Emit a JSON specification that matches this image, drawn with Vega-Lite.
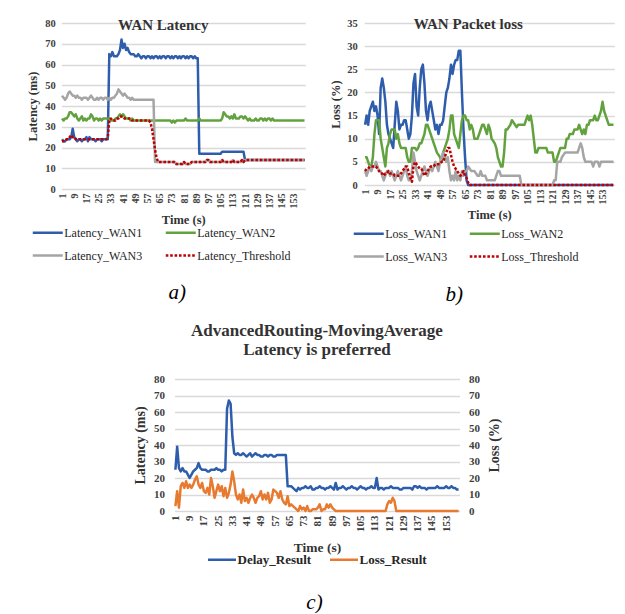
{
  "$schema": "https://vega.github.io/schema/vega-lite/v6.json",
  "padding": {"left": 26, "top": 17, "right": 0, "bottom": 0},
  "background": "white",
  "config": {
    "font": "Liberation Serif",
    "view": {"stroke": null},
    "axis": {"labelFont": "Liberation Serif", "labelFontWeight": "bold", "labelColor": "#404040", "titleFont": "Liberation Serif", "titleFontWeight": "bold", "titleColor": "#333333", "domain": false, "ticks": false, "gridColor": "#d9d9d9", "gridWidth": 1.3},
    "legend": {"labelFont": "Liberation Serif", "labelColor": "#262626"},
    "title": {"font": "Liberation Serif", "fontWeight": "bold", "color": "#333333"},
    "line": {"strokeWidth": 2.5, "strokeJoin": "round"}
  },
  "datasets": {
    "lat": [
      {"t":1,"s":"Latency_WAN1","v":24},{"t":2,"s":"Latency_WAN1","v":23},{"t":3,"s":"Latency_WAN1","v":23},{"t":4,"s":"Latency_WAN1","v":24},{"t":5,"s":"Latency_WAN1","v":24},{"t":6,"s":"Latency_WAN1","v":24},{"t":7,"s":"Latency_WAN1","v":25},{"t":8,"s":"Latency_WAN1","v":29},{"t":9,"s":"Latency_WAN1","v":25},{"t":10,"s":"Latency_WAN1","v":24},{"t":11,"s":"Latency_WAN1","v":23},{"t":12,"s":"Latency_WAN1","v":24},{"t":13,"s":"Latency_WAN1","v":24},{"t":14,"s":"Latency_WAN1","v":23},{"t":15,"s":"Latency_WAN1","v":24},{"t":16,"s":"Latency_WAN1","v":24},{"t":17,"s":"Latency_WAN1","v":25},{"t":18,"s":"Latency_WAN1","v":23},{"t":19,"s":"Latency_WAN1","v":25},{"t":20,"s":"Latency_WAN1","v":24},{"t":21,"s":"Latency_WAN1","v":24},{"t":22,"s":"Latency_WAN1","v":24},{"t":23,"s":"Latency_WAN1","v":23},{"t":24,"s":"Latency_WAN1","v":24},{"t":25,"s":"Latency_WAN1","v":24},{"t":26,"s":"Latency_WAN1","v":24},{"t":27,"s":"Latency_WAN1","v":23},{"t":28,"s":"Latency_WAN1","v":24},{"t":29,"s":"Latency_WAN1","v":24},{"t":30,"s":"Latency_WAN1","v":24},{"t":31,"s":"Latency_WAN1","v":24},{"t":32,"s":"Latency_WAN1","v":65},{"t":33,"s":"Latency_WAN1","v":64},{"t":34,"s":"Latency_WAN1","v":66},{"t":35,"s":"Latency_WAN1","v":64},{"t":36,"s":"Latency_WAN1","v":64},{"t":37,"s":"Latency_WAN1","v":64},{"t":38,"s":"Latency_WAN1","v":65},{"t":39,"s":"Latency_WAN1","v":67},{"t":40,"s":"Latency_WAN1","v":72},{"t":41,"s":"Latency_WAN1","v":68},{"t":42,"s":"Latency_WAN1","v":70},{"t":43,"s":"Latency_WAN1","v":67},{"t":44,"s":"Latency_WAN1","v":68},{"t":45,"s":"Latency_WAN1","v":66},{"t":46,"s":"Latency_WAN1","v":65},{"t":47,"s":"Latency_WAN1","v":65},{"t":48,"s":"Latency_WAN1","v":65},{"t":49,"s":"Latency_WAN1","v":64},{"t":50,"s":"Latency_WAN1","v":64},{"t":51,"s":"Latency_WAN1","v":65},{"t":52,"s":"Latency_WAN1","v":64},{"t":53,"s":"Latency_WAN1","v":63},{"t":54,"s":"Latency_WAN1","v":64},{"t":55,"s":"Latency_WAN1","v":64},{"t":56,"s":"Latency_WAN1","v":63},{"t":57,"s":"Latency_WAN1","v":64},{"t":58,"s":"Latency_WAN1","v":64},{"t":59,"s":"Latency_WAN1","v":63},{"t":60,"s":"Latency_WAN1","v":64},{"t":61,"s":"Latency_WAN1","v":63},{"t":62,"s":"Latency_WAN1","v":64},{"t":63,"s":"Latency_WAN1","v":64},{"t":64,"s":"Latency_WAN1","v":63},{"t":65,"s":"Latency_WAN1","v":64},{"t":66,"s":"Latency_WAN1","v":63},{"t":67,"s":"Latency_WAN1","v":64},{"t":68,"s":"Latency_WAN1","v":64},{"t":69,"s":"Latency_WAN1","v":63},{"t":70,"s":"Latency_WAN1","v":64},{"t":71,"s":"Latency_WAN1","v":64},{"t":72,"s":"Latency_WAN1","v":63},{"t":73,"s":"Latency_WAN1","v":64},{"t":74,"s":"Latency_WAN1","v":63},{"t":75,"s":"Latency_WAN1","v":64},{"t":76,"s":"Latency_WAN1","v":64},{"t":77,"s":"Latency_WAN1","v":63},{"t":78,"s":"Latency_WAN1","v":64},{"t":79,"s":"Latency_WAN1","v":63},{"t":80,"s":"Latency_WAN1","v":64},{"t":81,"s":"Latency_WAN1","v":64},{"t":82,"s":"Latency_WAN1","v":63},{"t":83,"s":"Latency_WAN1","v":64},{"t":84,"s":"Latency_WAN1","v":63},{"t":85,"s":"Latency_WAN1","v":64},{"t":86,"s":"Latency_WAN1","v":64},{"t":87,"s":"Latency_WAN1","v":63},{"t":88,"s":"Latency_WAN1","v":64},{"t":89,"s":"Latency_WAN1","v":63},{"t":90,"s":"Latency_WAN1","v":63},{"t":91,"s":"Latency_WAN1","v":17},{"t":92,"s":"Latency_WAN1","v":17},{"t":105,"s":"Latency_WAN1","v":17},{"t":106,"s":"Latency_WAN1","v":18},{"t":120,"s":"Latency_WAN1","v":18},{"t":121,"s":"Latency_WAN1","v":14},{"t":160,"s":"Latency_WAN1","v":14},

      {"t":1,"s":"Latency_WAN2","v":34},{"t":2,"s":"Latency_WAN2","v":33},{"t":3,"s":"Latency_WAN2","v":34},{"t":4,"s":"Latency_WAN2","v":34},{"t":5,"s":"Latency_WAN2","v":35},{"t":6,"s":"Latency_WAN2","v":37},{"t":7,"s":"Latency_WAN2","v":37},{"t":8,"s":"Latency_WAN2","v":36},{"t":9,"s":"Latency_WAN2","v":35},{"t":10,"s":"Latency_WAN2","v":36},{"t":11,"s":"Latency_WAN2","v":34},{"t":12,"s":"Latency_WAN2","v":33},{"t":13,"s":"Latency_WAN2","v":34},{"t":14,"s":"Latency_WAN2","v":35},{"t":15,"s":"Latency_WAN2","v":33},{"t":16,"s":"Latency_WAN2","v":34},{"t":17,"s":"Latency_WAN2","v":33},{"t":18,"s":"Latency_WAN2","v":34},{"t":19,"s":"Latency_WAN2","v":34},{"t":20,"s":"Latency_WAN2","v":36},{"t":21,"s":"Latency_WAN2","v":35},{"t":22,"s":"Latency_WAN2","v":33},{"t":23,"s":"Latency_WAN2","v":34},{"t":24,"s":"Latency_WAN2","v":34},{"t":25,"s":"Latency_WAN2","v":33},{"t":26,"s":"Latency_WAN2","v":34},{"t":27,"s":"Latency_WAN2","v":33},{"t":28,"s":"Latency_WAN2","v":34},{"t":31,"s":"Latency_WAN2","v":34},{"t":32,"s":"Latency_WAN2","v":34},{"t":33,"s":"Latency_WAN2","v":33},{"t":35,"s":"Latency_WAN2","v":33},{"t":36,"s":"Latency_WAN2","v":34},{"t":37,"s":"Latency_WAN2","v":34},{"t":38,"s":"Latency_WAN2","v":35},{"t":39,"s":"Latency_WAN2","v":36},{"t":40,"s":"Latency_WAN2","v":35},{"t":41,"s":"Latency_WAN2","v":36},{"t":42,"s":"Latency_WAN2","v":35},{"t":43,"s":"Latency_WAN2","v":34},{"t":45,"s":"Latency_WAN2","v":34},{"t":46,"s":"Latency_WAN2","v":33},{"t":47,"s":"Latency_WAN2","v":34},{"t":48,"s":"Latency_WAN2","v":33},{"t":72,"s":"Latency_WAN2","v":33},{"t":73,"s":"Latency_WAN2","v":32},{"t":74,"s":"Latency_WAN2","v":33},{"t":75,"s":"Latency_WAN2","v":32},{"t":76,"s":"Latency_WAN2","v":33},{"t":81,"s":"Latency_WAN2","v":33},{"t":82,"s":"Latency_WAN2","v":34},{"t":83,"s":"Latency_WAN2","v":33},{"t":90,"s":"Latency_WAN2","v":33},{"t":91,"s":"Latency_WAN2","v":34},{"t":92,"s":"Latency_WAN2","v":33},{"t":105,"s":"Latency_WAN2","v":33},{"t":106,"s":"Latency_WAN2","v":34},{"t":107,"s":"Latency_WAN2","v":37},{"t":108,"s":"Latency_WAN2","v":36},{"t":109,"s":"Latency_WAN2","v":35},{"t":110,"s":"Latency_WAN2","v":35},{"t":111,"s":"Latency_WAN2","v":34},{"t":112,"s":"Latency_WAN2","v":35},{"t":113,"s":"Latency_WAN2","v":34},{"t":114,"s":"Latency_WAN2","v":36},{"t":115,"s":"Latency_WAN2","v":34},{"t":117,"s":"Latency_WAN2","v":34},{"t":118,"s":"Latency_WAN2","v":35},{"t":119,"s":"Latency_WAN2","v":35},{"t":120,"s":"Latency_WAN2","v":34},{"t":121,"s":"Latency_WAN2","v":35},{"t":122,"s":"Latency_WAN2","v":34},{"t":123,"s":"Latency_WAN2","v":33},{"t":124,"s":"Latency_WAN2","v":34},{"t":125,"s":"Latency_WAN2","v":33},{"t":127,"s":"Latency_WAN2","v":33},{"t":128,"s":"Latency_WAN2","v":34},{"t":129,"s":"Latency_WAN2","v":33},{"t":130,"s":"Latency_WAN2","v":33},{"t":131,"s":"Latency_WAN2","v":34},{"t":132,"s":"Latency_WAN2","v":34},{"t":133,"s":"Latency_WAN2","v":33},{"t":134,"s":"Latency_WAN2","v":34},{"t":135,"s":"Latency_WAN2","v":33},{"t":136,"s":"Latency_WAN2","v":34},{"t":137,"s":"Latency_WAN2","v":34},{"t":138,"s":"Latency_WAN2","v":33},{"t":139,"s":"Latency_WAN2","v":34},{"t":140,"s":"Latency_WAN2","v":33},{"t":160,"s":"Latency_WAN2","v":33},

      {"t":1,"s":"Latency_WAN3","v":45},{"t":2,"s":"Latency_WAN3","v":44},{"t":3,"s":"Latency_WAN3","v":43},{"t":4,"s":"Latency_WAN3","v":44},{"t":5,"s":"Latency_WAN3","v":46},{"t":6,"s":"Latency_WAN3","v":47},{"t":7,"s":"Latency_WAN3","v":46},{"t":8,"s":"Latency_WAN3","v":45},{"t":9,"s":"Latency_WAN3","v":45},{"t":10,"s":"Latency_WAN3","v":44},{"t":11,"s":"Latency_WAN3","v":45},{"t":12,"s":"Latency_WAN3","v":44},{"t":13,"s":"Latency_WAN3","v":44},{"t":14,"s":"Latency_WAN3","v":43},{"t":15,"s":"Latency_WAN3","v":44},{"t":17,"s":"Latency_WAN3","v":44},{"t":18,"s":"Latency_WAN3","v":43},{"t":19,"s":"Latency_WAN3","v":44},{"t":20,"s":"Latency_WAN3","v":45},{"t":21,"s":"Latency_WAN3","v":44},{"t":22,"s":"Latency_WAN3","v":43},{"t":23,"s":"Latency_WAN3","v":43},{"t":24,"s":"Latency_WAN3","v":44},{"t":25,"s":"Latency_WAN3","v":43},{"t":26,"s":"Latency_WAN3","v":44},{"t":27,"s":"Latency_WAN3","v":44},{"t":28,"s":"Latency_WAN3","v":43},{"t":29,"s":"Latency_WAN3","v":44},{"t":30,"s":"Latency_WAN3","v":44},{"t":31,"s":"Latency_WAN3","v":43},{"t":32,"s":"Latency_WAN3","v":44},{"t":33,"s":"Latency_WAN3","v":43},{"t":34,"s":"Latency_WAN3","v":44},{"t":35,"s":"Latency_WAN3","v":44},{"t":36,"s":"Latency_WAN3","v":45},{"t":37,"s":"Latency_WAN3","v":46},{"t":38,"s":"Latency_WAN3","v":48},{"t":39,"s":"Latency_WAN3","v":47},{"t":40,"s":"Latency_WAN3","v":46},{"t":41,"s":"Latency_WAN3","v":45},{"t":42,"s":"Latency_WAN3","v":46},{"t":43,"s":"Latency_WAN3","v":45},{"t":44,"s":"Latency_WAN3","v":44},{"t":45,"s":"Latency_WAN3","v":44},{"t":46,"s":"Latency_WAN3","v":43},{"t":47,"s":"Latency_WAN3","v":44},{"t":48,"s":"Latency_WAN3","v":43},{"t":61,"s":"Latency_WAN3","v":43},{"t":62,"s":"Latency_WAN3","v":13},{"t":75,"s":"Latency_WAN3","v":13},{"t":76,"s":"Latency_WAN3","v":12},{"t":80,"s":"Latency_WAN3","v":12},{"t":81,"s":"Latency_WAN3","v":13},{"t":82,"s":"Latency_WAN3","v":12},{"t":85,"s":"Latency_WAN3","v":12},{"t":86,"s":"Latency_WAN3","v":13},{"t":95,"s":"Latency_WAN3","v":13},{"t":96,"s":"Latency_WAN3","v":14},{"t":97,"s":"Latency_WAN3","v":14},{"t":98,"s":"Latency_WAN3","v":13},{"t":105,"s":"Latency_WAN3","v":13},{"t":106,"s":"Latency_WAN3","v":14},{"t":107,"s":"Latency_WAN3","v":13},{"t":112,"s":"Latency_WAN3","v":13},{"t":113,"s":"Latency_WAN3","v":14},{"t":114,"s":"Latency_WAN3","v":13},{"t":118,"s":"Latency_WAN3","v":13},{"t":119,"s":"Latency_WAN3","v":14},{"t":120,"s":"Latency_WAN3","v":13},{"t":121,"s":"Latency_WAN3","v":14},{"t":160,"s":"Latency_WAN3","v":14},

      {"t":1,"s":"Latency_Threshold","v":23},{"t":3,"s":"Latency_Threshold","v":23},{"t":4,"s":"Latency_Threshold","v":24},{"t":5,"s":"Latency_Threshold","v":24},{"t":6,"s":"Latency_Threshold","v":25},{"t":7,"s":"Latency_Threshold","v":26},{"t":8,"s":"Latency_Threshold","v":25},{"t":9,"s":"Latency_Threshold","v":25},{"t":10,"s":"Latency_Threshold","v":24},{"t":30,"s":"Latency_Threshold","v":24},{"t":31,"s":"Latency_Threshold","v":25},{"t":32,"s":"Latency_Threshold","v":33},{"t":33,"s":"Latency_Threshold","v":34},{"t":34,"s":"Latency_Threshold","v":33},{"t":36,"s":"Latency_Threshold","v":33},{"t":37,"s":"Latency_Threshold","v":34},{"t":38,"s":"Latency_Threshold","v":34},{"t":39,"s":"Latency_Threshold","v":35},{"t":41,"s":"Latency_Threshold","v":35},{"t":42,"s":"Latency_Threshold","v":34},{"t":46,"s":"Latency_Threshold","v":34},{"t":47,"s":"Latency_Threshold","v":33},{"t":58,"s":"Latency_Threshold","v":33},{"t":59,"s":"Latency_Threshold","v":32},{"t":60,"s":"Latency_Threshold","v":29},{"t":61,"s":"Latency_Threshold","v":24},{"t":62,"s":"Latency_Threshold","v":19},{"t":63,"s":"Latency_Threshold","v":15},{"t":64,"s":"Latency_Threshold","v":13},{"t":75,"s":"Latency_Threshold","v":13},{"t":76,"s":"Latency_Threshold","v":12},{"t":80,"s":"Latency_Threshold","v":12},{"t":81,"s":"Latency_Threshold","v":13},{"t":82,"s":"Latency_Threshold","v":12},{"t":85,"s":"Latency_Threshold","v":12},{"t":86,"s":"Latency_Threshold","v":13},{"t":95,"s":"Latency_Threshold","v":13},{"t":96,"s":"Latency_Threshold","v":14},{"t":97,"s":"Latency_Threshold","v":14},{"t":98,"s":"Latency_Threshold","v":13},{"t":105,"s":"Latency_Threshold","v":13},{"t":106,"s":"Latency_Threshold","v":14},{"t":107,"s":"Latency_Threshold","v":13},{"t":112,"s":"Latency_Threshold","v":13},{"t":113,"s":"Latency_Threshold","v":14},{"t":114,"s":"Latency_Threshold","v":13},{"t":118,"s":"Latency_Threshold","v":13},{"t":119,"s":"Latency_Threshold","v":14},{"t":120,"s":"Latency_Threshold","v":13},{"t":121,"s":"Latency_Threshold","v":14},{"t":160,"s":"Latency_Threshold","v":14}
    ],
    "loss": [
      {"t":1,"s":"Loss_WAN1","v":13},{"t":2,"s":"Loss_WAN1","v":15},{"t":3,"s":"Loss_WAN1","v":13},{"t":4,"s":"Loss_WAN1","v":16},{"t":5,"s":"Loss_WAN1","v":17},{"t":6,"s":"Loss_WAN1","v":18},{"t":7,"s":"Loss_WAN1","v":16},{"t":8,"s":"Loss_WAN1","v":17},{"t":9,"s":"Loss_WAN1","v":15},{"t":10,"s":"Loss_WAN1","v":11},{"t":11,"s":"Loss_WAN1","v":21},{"t":12,"s":"Loss_WAN1","v":23},{"t":13,"s":"Loss_WAN1","v":21},{"t":14,"s":"Loss_WAN1","v":18},{"t":15,"s":"Loss_WAN1","v":13},{"t":16,"s":"Loss_WAN1","v":11},{"t":17,"s":"Loss_WAN1","v":10},{"t":18,"s":"Loss_WAN1","v":9},{"t":19,"s":"Loss_WAN1","v":8},{"t":20,"s":"Loss_WAN1","v":13},{"t":21,"s":"Loss_WAN1","v":18},{"t":22,"s":"Loss_WAN1","v":16},{"t":23,"s":"Loss_WAN1","v":12},{"t":24,"s":"Loss_WAN1","v":13},{"t":25,"s":"Loss_WAN1","v":13},{"t":26,"s":"Loss_WAN1","v":14},{"t":27,"s":"Loss_WAN1","v":14},{"t":28,"s":"Loss_WAN1","v":12},{"t":29,"s":"Loss_WAN1","v":10},{"t":30,"s":"Loss_WAN1","v":11},{"t":31,"s":"Loss_WAN1","v":15},{"t":32,"s":"Loss_WAN1","v":22},{"t":33,"s":"Loss_WAN1","v":24},{"t":34,"s":"Loss_WAN1","v":17},{"t":35,"s":"Loss_WAN1","v":15},{"t":36,"s":"Loss_WAN1","v":21},{"t":37,"s":"Loss_WAN1","v":25},{"t":38,"s":"Loss_WAN1","v":26},{"t":39,"s":"Loss_WAN1","v":22},{"t":40,"s":"Loss_WAN1","v":16},{"t":41,"s":"Loss_WAN1","v":14},{"t":42,"s":"Loss_WAN1","v":17},{"t":43,"s":"Loss_WAN1","v":18},{"t":44,"s":"Loss_WAN1","v":16},{"t":45,"s":"Loss_WAN1","v":14},{"t":46,"s":"Loss_WAN1","v":12},{"t":47,"s":"Loss_WAN1","v":13},{"t":48,"s":"Loss_WAN1","v":11},{"t":49,"s":"Loss_WAN1","v":13},{"t":50,"s":"Loss_WAN1","v":13},{"t":51,"s":"Loss_WAN1","v":14},{"t":52,"s":"Loss_WAN1","v":17},{"t":53,"s":"Loss_WAN1","v":20},{"t":54,"s":"Loss_WAN1","v":21},{"t":55,"s":"Loss_WAN1","v":23},{"t":56,"s":"Loss_WAN1","v":26},{"t":57,"s":"Loss_WAN1","v":24},{"t":58,"s":"Loss_WAN1","v":26},{"t":59,"s":"Loss_WAN1","v":27},{"t":60,"s":"Loss_WAN1","v":27},{"t":61,"s":"Loss_WAN1","v":29},{"t":62,"s":"Loss_WAN1","v":29},{"t":63,"s":"Loss_WAN1","v":20},{"t":64,"s":"Loss_WAN1","v":12},{"t":65,"s":"Loss_WAN1","v":6},{"t":66,"s":"Loss_WAN1","v":1},{"t":67,"s":"Loss_WAN1","v":0},{"t":160,"s":"Loss_WAN1","v":0},

      {"t":1,"s":"Loss_WAN2","v":6},{"t":2,"s":"Loss_WAN2","v":6},{"t":3,"s":"Loss_WAN2","v":5},{"t":4,"s":"Loss_WAN2","v":4},{"t":5,"s":"Loss_WAN2","v":4},{"t":6,"s":"Loss_WAN2","v":6},{"t":7,"s":"Loss_WAN2","v":11},{"t":8,"s":"Loss_WAN2","v":14},{"t":9,"s":"Loss_WAN2","v":14},{"t":10,"s":"Loss_WAN2","v":14},{"t":11,"s":"Loss_WAN2","v":10},{"t":12,"s":"Loss_WAN2","v":8},{"t":13,"s":"Loss_WAN2","v":6},{"t":14,"s":"Loss_WAN2","v":4},{"t":15,"s":"Loss_WAN2","v":8},{"t":16,"s":"Loss_WAN2","v":9},{"t":17,"s":"Loss_WAN2","v":11},{"t":18,"s":"Loss_WAN2","v":12},{"t":19,"s":"Loss_WAN2","v":12},{"t":20,"s":"Loss_WAN2","v":12},{"t":21,"s":"Loss_WAN2","v":10},{"t":22,"s":"Loss_WAN2","v":11},{"t":23,"s":"Loss_WAN2","v":9},{"t":24,"s":"Loss_WAN2","v":8},{"t":27,"s":"Loss_WAN2","v":8},{"t":28,"s":"Loss_WAN2","v":6},{"t":29,"s":"Loss_WAN2","v":5},{"t":30,"s":"Loss_WAN2","v":5},{"t":31,"s":"Loss_WAN2","v":8},{"t":33,"s":"Loss_WAN2","v":8},{"t":34,"s":"Loss_WAN2","v":7.5},{"t":35,"s":"Loss_WAN2","v":8},{"t":36,"s":"Loss_WAN2","v":9},{"t":37,"s":"Loss_WAN2","v":9},{"t":38,"s":"Loss_WAN2","v":10},{"t":39,"s":"Loss_WAN2","v":11},{"t":40,"s":"Loss_WAN2","v":13},{"t":41,"s":"Loss_WAN2","v":13},{"t":42,"s":"Loss_WAN2","v":12},{"t":43,"s":"Loss_WAN2","v":11},{"t":44,"s":"Loss_WAN2","v":10},{"t":45,"s":"Loss_WAN2","v":9},{"t":46,"s":"Loss_WAN2","v":8},{"t":47,"s":"Loss_WAN2","v":7},{"t":48,"s":"Loss_WAN2","v":6.5},{"t":49,"s":"Loss_WAN2","v":6},{"t":50,"s":"Loss_WAN2","v":5},{"t":51,"s":"Loss_WAN2","v":7},{"t":52,"s":"Loss_WAN2","v":8},{"t":53,"s":"Loss_WAN2","v":9},{"t":54,"s":"Loss_WAN2","v":10},{"t":55,"s":"Loss_WAN2","v":12},{"t":56,"s":"Loss_WAN2","v":15},{"t":57,"s":"Loss_WAN2","v":15},{"t":58,"s":"Loss_WAN2","v":11},{"t":59,"s":"Loss_WAN2","v":10},{"t":60,"s":"Loss_WAN2","v":9},{"t":61,"s":"Loss_WAN2","v":8},{"t":62,"s":"Loss_WAN2","v":11},{"t":63,"s":"Loss_WAN2","v":14},{"t":64,"s":"Loss_WAN2","v":15},{"t":65,"s":"Loss_WAN2","v":15},{"t":66,"s":"Loss_WAN2","v":14},{"t":67,"s":"Loss_WAN2","v":14},{"t":68,"s":"Loss_WAN2","v":12},{"t":69,"s":"Loss_WAN2","v":13},{"t":70,"s":"Loss_WAN2","v":12},{"t":71,"s":"Loss_WAN2","v":10},{"t":73,"s":"Loss_WAN2","v":10},{"t":74,"s":"Loss_WAN2","v":11},{"t":75,"s":"Loss_WAN2","v":12},{"t":76,"s":"Loss_WAN2","v":13},{"t":77,"s":"Loss_WAN2","v":13},{"t":78,"s":"Loss_WAN2","v":12},{"t":79,"s":"Loss_WAN2","v":11},{"t":80,"s":"Loss_WAN2","v":13},{"t":81,"s":"Loss_WAN2","v":12},{"t":82,"s":"Loss_WAN2","v":10},{"t":83,"s":"Loss_WAN2","v":9.5},{"t":84,"s":"Loss_WAN2","v":9},{"t":85,"s":"Loss_WAN2","v":8},{"t":86,"s":"Loss_WAN2","v":6},{"t":87,"s":"Loss_WAN2","v":5},{"t":88,"s":"Loss_WAN2","v":4},{"t":89,"s":"Loss_WAN2","v":4},{"t":90,"s":"Loss_WAN2","v":7},{"t":91,"s":"Loss_WAN2","v":12},{"t":92,"s":"Loss_WAN2","v":12},{"t":93,"s":"Loss_WAN2","v":12.5},{"t":94,"s":"Loss_WAN2","v":13},{"t":95,"s":"Loss_WAN2","v":14},{"t":96,"s":"Loss_WAN2","v":13.5},{"t":97,"s":"Loss_WAN2","v":13},{"t":98,"s":"Loss_WAN2","v":12.5},{"t":99,"s":"Loss_WAN2","v":13},{"t":103,"s":"Loss_WAN2","v":13},{"t":104,"s":"Loss_WAN2","v":14},{"t":105,"s":"Loss_WAN2","v":15},{"t":106,"s":"Loss_WAN2","v":14},{"t":107,"s":"Loss_WAN2","v":15},{"t":108,"s":"Loss_WAN2","v":13},{"t":109,"s":"Loss_WAN2","v":10},{"t":110,"s":"Loss_WAN2","v":7},{"t":111,"s":"Loss_WAN2","v":7},{"t":112,"s":"Loss_WAN2","v":8},{"t":117,"s":"Loss_WAN2","v":8},{"t":118,"s":"Loss_WAN2","v":7},{"t":121,"s":"Loss_WAN2","v":7},{"t":122,"s":"Loss_WAN2","v":5},{"t":123,"s":"Loss_WAN2","v":5},{"t":124,"s":"Loss_WAN2","v":6},{"t":125,"s":"Loss_WAN2","v":7},{"t":126,"s":"Loss_WAN2","v":8},{"t":129,"s":"Loss_WAN2","v":8},{"t":130,"s":"Loss_WAN2","v":10},{"t":131,"s":"Loss_WAN2","v":10},{"t":132,"s":"Loss_WAN2","v":11},{"t":134,"s":"Loss_WAN2","v":11},{"t":135,"s":"Loss_WAN2","v":12},{"t":137,"s":"Loss_WAN2","v":12},{"t":138,"s":"Loss_WAN2","v":13},{"t":139,"s":"Loss_WAN2","v":12},{"t":140,"s":"Loss_WAN2","v":11},{"t":141,"s":"Loss_WAN2","v":12},{"t":142,"s":"Loss_WAN2","v":11},{"t":143,"s":"Loss_WAN2","v":13},{"t":144,"s":"Loss_WAN2","v":13},{"t":145,"s":"Loss_WAN2","v":14},{"t":147,"s":"Loss_WAN2","v":14},{"t":148,"s":"Loss_WAN2","v":15},{"t":149,"s":"Loss_WAN2","v":14},{"t":150,"s":"Loss_WAN2","v":14},{"t":151,"s":"Loss_WAN2","v":15},{"t":152,"s":"Loss_WAN2","v":16},{"t":153,"s":"Loss_WAN2","v":18},{"t":154,"s":"Loss_WAN2","v":16},{"t":155,"s":"Loss_WAN2","v":15},{"t":156,"s":"Loss_WAN2","v":14},{"t":157,"s":"Loss_WAN2","v":13},{"t":160,"s":"Loss_WAN2","v":13},

      {"t":1,"s":"Loss_WAN3","v":3},{"t":2,"s":"Loss_WAN3","v":2},{"t":3,"s":"Loss_WAN3","v":3},{"t":4,"s":"Loss_WAN3","v":4},{"t":5,"s":"Loss_WAN3","v":3},{"t":6,"s":"Loss_WAN3","v":4},{"t":7,"s":"Loss_WAN3","v":4},{"t":8,"s":"Loss_WAN3","v":5},{"t":9,"s":"Loss_WAN3","v":4},{"t":10,"s":"Loss_WAN3","v":3},{"t":11,"s":"Loss_WAN3","v":3},{"t":12,"s":"Loss_WAN3","v":2},{"t":13,"s":"Loss_WAN3","v":1},{"t":14,"s":"Loss_WAN3","v":2},{"t":15,"s":"Loss_WAN3","v":3},{"t":16,"s":"Loss_WAN3","v":3},{"t":17,"s":"Loss_WAN3","v":2},{"t":18,"s":"Loss_WAN3","v":3},{"t":19,"s":"Loss_WAN3","v":2},{"t":20,"s":"Loss_WAN3","v":1},{"t":21,"s":"Loss_WAN3","v":2},{"t":22,"s":"Loss_WAN3","v":3},{"t":23,"s":"Loss_WAN3","v":2},{"t":24,"s":"Loss_WAN3","v":1},{"t":25,"s":"Loss_WAN3","v":2},{"t":26,"s":"Loss_WAN3","v":3},{"t":27,"s":"Loss_WAN3","v":4},{"t":28,"s":"Loss_WAN3","v":2},{"t":29,"s":"Loss_WAN3","v":1},{"t":30,"s":"Loss_WAN3","v":1},{"t":31,"s":"Loss_WAN3","v":3},{"t":32,"s":"Loss_WAN3","v":7},{"t":33,"s":"Loss_WAN3","v":5},{"t":34,"s":"Loss_WAN3","v":3},{"t":35,"s":"Loss_WAN3","v":2},{"t":36,"s":"Loss_WAN3","v":1},{"t":37,"s":"Loss_WAN3","v":2},{"t":38,"s":"Loss_WAN3","v":3},{"t":39,"s":"Loss_WAN3","v":4},{"t":40,"s":"Loss_WAN3","v":3},{"t":41,"s":"Loss_WAN3","v":2},{"t":42,"s":"Loss_WAN3","v":3},{"t":43,"s":"Loss_WAN3","v":4},{"t":44,"s":"Loss_WAN3","v":3},{"t":45,"s":"Loss_WAN3","v":4},{"t":46,"s":"Loss_WAN3","v":5},{"t":47,"s":"Loss_WAN3","v":4},{"t":48,"s":"Loss_WAN3","v":3},{"t":49,"s":"Loss_WAN3","v":5},{"t":50,"s":"Loss_WAN3","v":6},{"t":51,"s":"Loss_WAN3","v":7},{"t":52,"s":"Loss_WAN3","v":6},{"t":53,"s":"Loss_WAN3","v":5},{"t":54,"s":"Loss_WAN3","v":6},{"t":55,"s":"Loss_WAN3","v":3},{"t":56,"s":"Loss_WAN3","v":1},{"t":57,"s":"Loss_WAN3","v":2},{"t":58,"s":"Loss_WAN3","v":1},{"t":59,"s":"Loss_WAN3","v":3},{"t":60,"s":"Loss_WAN3","v":1},{"t":61,"s":"Loss_WAN3","v":2},{"t":62,"s":"Loss_WAN3","v":1},{"t":63,"s":"Loss_WAN3","v":3},{"t":64,"s":"Loss_WAN3","v":2},{"t":65,"s":"Loss_WAN3","v":3},{"t":66,"s":"Loss_WAN3","v":3},{"t":67,"s":"Loss_WAN3","v":4},{"t":68,"s":"Loss_WAN3","v":3.5},{"t":69,"s":"Loss_WAN3","v":3},{"t":71,"s":"Loss_WAN3","v":3},{"t":72,"s":"Loss_WAN3","v":2.5},{"t":73,"s":"Loss_WAN3","v":2},{"t":74,"s":"Loss_WAN3","v":2},{"t":75,"s":"Loss_WAN3","v":3},{"t":76,"s":"Loss_WAN3","v":2},{"t":78,"s":"Loss_WAN3","v":2},{"t":79,"s":"Loss_WAN3","v":1},{"t":84,"s":"Loss_WAN3","v":1},{"t":85,"s":"Loss_WAN3","v":2},{"t":86,"s":"Loss_WAN3","v":3},{"t":87,"s":"Loss_WAN3","v":3},{"t":88,"s":"Loss_WAN3","v":2},{"t":100,"s":"Loss_WAN3","v":2},{"t":101,"s":"Loss_WAN3","v":0},{"t":121,"s":"Loss_WAN3","v":0},{"t":122,"s":"Loss_WAN3","v":1},{"t":123,"s":"Loss_WAN3","v":1},{"t":124,"s":"Loss_WAN3","v":5},{"t":126,"s":"Loss_WAN3","v":5},{"t":127,"s":"Loss_WAN3","v":6},{"t":129,"s":"Loss_WAN3","v":7},{"t":137,"s":"Loss_WAN3","v":7},{"t":138,"s":"Loss_WAN3","v":8},{"t":139,"s":"Loss_WAN3","v":9},{"t":140,"s":"Loss_WAN3","v":8},{"t":141,"s":"Loss_WAN3","v":6},{"t":142,"s":"Loss_WAN3","v":5},{"t":146,"s":"Loss_WAN3","v":5},{"t":147,"s":"Loss_WAN3","v":4},{"t":148,"s":"Loss_WAN3","v":5},{"t":150,"s":"Loss_WAN3","v":5},{"t":151,"s":"Loss_WAN3","v":4},{"t":152,"s":"Loss_WAN3","v":5},{"t":160,"s":"Loss_WAN3","v":5},

      {"t":1,"s":"Loss_Threshold","v":3},{"t":2,"s":"Loss_Threshold","v":3.5},{"t":3,"s":"Loss_Threshold","v":3.5},{"t":4,"s":"Loss_Threshold","v":4},{"t":8,"s":"Loss_Threshold","v":4},{"t":9,"s":"Loss_Threshold","v":3.5},{"t":10,"s":"Loss_Threshold","v":3},{"t":11,"s":"Loss_Threshold","v":2.5},{"t":12,"s":"Loss_Threshold","v":2.5},{"t":13,"s":"Loss_Threshold","v":2},{"t":14,"s":"Loss_Threshold","v":2.5},{"t":15,"s":"Loss_Threshold","v":2.5},{"t":16,"s":"Loss_Threshold","v":3},{"t":17,"s":"Loss_Threshold","v":2.5},{"t":19,"s":"Loss_Threshold","v":2.5},{"t":20,"s":"Loss_Threshold","v":2},{"t":23,"s":"Loss_Threshold","v":2},{"t":24,"s":"Loss_Threshold","v":2.5},{"t":25,"s":"Loss_Threshold","v":3},{"t":26,"s":"Loss_Threshold","v":3.5},{"t":27,"s":"Loss_Threshold","v":4},{"t":28,"s":"Loss_Threshold","v":4},{"t":29,"s":"Loss_Threshold","v":2.5},{"t":30,"s":"Loss_Threshold","v":1.5},{"t":31,"s":"Loss_Threshold","v":0.7},{"t":32,"s":"Loss_Threshold","v":4},{"t":33,"s":"Loss_Threshold","v":5},{"t":34,"s":"Loss_Threshold","v":4.5},{"t":35,"s":"Loss_Threshold","v":4},{"t":36,"s":"Loss_Threshold","v":3.5},{"t":37,"s":"Loss_Threshold","v":3.5},{"t":38,"s":"Loss_Threshold","v":3},{"t":39,"s":"Loss_Threshold","v":2},{"t":40,"s":"Loss_Threshold","v":2.5},{"t":41,"s":"Loss_Threshold","v":3},{"t":42,"s":"Loss_Threshold","v":3.5},{"t":43,"s":"Loss_Threshold","v":4},{"t":45,"s":"Loss_Threshold","v":4},{"t":46,"s":"Loss_Threshold","v":4.5},{"t":49,"s":"Loss_Threshold","v":4.5},{"t":50,"s":"Loss_Threshold","v":5},{"t":51,"s":"Loss_Threshold","v":5},{"t":52,"s":"Loss_Threshold","v":6},{"t":53,"s":"Loss_Threshold","v":7},{"t":54,"s":"Loss_Threshold","v":8},{"t":55,"s":"Loss_Threshold","v":8},{"t":56,"s":"Loss_Threshold","v":6.5},{"t":57,"s":"Loss_Threshold","v":5},{"t":58,"s":"Loss_Threshold","v":4},{"t":59,"s":"Loss_Threshold","v":3.5},{"t":60,"s":"Loss_Threshold","v":3},{"t":61,"s":"Loss_Threshold","v":2.5},{"t":62,"s":"Loss_Threshold","v":2},{"t":63,"s":"Loss_Threshold","v":2.5},{"t":64,"s":"Loss_Threshold","v":3},{"t":65,"s":"Loss_Threshold","v":2},{"t":66,"s":"Loss_Threshold","v":1.5},{"t":67,"s":"Loss_Threshold","v":0.5},{"t":68,"s":"Loss_Threshold","v":0},{"t":160,"s":"Loss_Threshold","v":0}
    ],
    "res": [
      {"t":1,"s":"Delay_Result","v":25},{"t":2,"s":"Delay_Result","v":39},{"t":3,"s":"Delay_Result","v":26},{"t":4,"s":"Delay_Result","v":24},{"t":5,"s":"Delay_Result","v":26},{"t":6,"s":"Delay_Result","v":24},{"t":7,"s":"Delay_Result","v":24},{"t":8,"s":"Delay_Result","v":22},{"t":9,"s":"Delay_Result","v":20},{"t":10,"s":"Delay_Result","v":22},{"t":11,"s":"Delay_Result","v":24},{"t":12,"s":"Delay_Result","v":25},{"t":13,"s":"Delay_Result","v":26},{"t":14,"s":"Delay_Result","v":29},{"t":15,"s":"Delay_Result","v":26},{"t":16,"s":"Delay_Result","v":25},{"t":18,"s":"Delay_Result","v":25},{"t":19,"s":"Delay_Result","v":24},{"t":20,"s":"Delay_Result","v":24},{"t":21,"s":"Delay_Result","v":25},{"t":23,"s":"Delay_Result","v":25},{"t":24,"s":"Delay_Result","v":26},{"t":25,"s":"Delay_Result","v":25},{"t":26,"s":"Delay_Result","v":25},{"t":27,"s":"Delay_Result","v":24},{"t":28,"s":"Delay_Result","v":25},{"t":29,"s":"Delay_Result","v":25},{"t":30,"s":"Delay_Result","v":62},{"t":31,"s":"Delay_Result","v":67},{"t":32,"s":"Delay_Result","v":65},{"t":33,"s":"Delay_Result","v":45},{"t":34,"s":"Delay_Result","v":35},{"t":35,"s":"Delay_Result","v":34},{"t":36,"s":"Delay_Result","v":35},{"t":37,"s":"Delay_Result","v":34},{"t":38,"s":"Delay_Result","v":34},{"t":39,"s":"Delay_Result","v":35},{"t":40,"s":"Delay_Result","v":34},{"t":41,"s":"Delay_Result","v":33},{"t":42,"s":"Delay_Result","v":34},{"t":43,"s":"Delay_Result","v":35},{"t":44,"s":"Delay_Result","v":33},{"t":45,"s":"Delay_Result","v":34},{"t":46,"s":"Delay_Result","v":35},{"t":47,"s":"Delay_Result","v":34},{"t":48,"s":"Delay_Result","v":34},{"t":49,"s":"Delay_Result","v":33},{"t":50,"s":"Delay_Result","v":33},{"t":51,"s":"Delay_Result","v":34},{"t":52,"s":"Delay_Result","v":34},{"t":53,"s":"Delay_Result","v":33},{"t":54,"s":"Delay_Result","v":34},{"t":55,"s":"Delay_Result","v":34},{"t":56,"s":"Delay_Result","v":33},{"t":57,"s":"Delay_Result","v":33},{"t":58,"s":"Delay_Result","v":34},{"t":63,"s":"Delay_Result","v":34},{"t":64,"s":"Delay_Result","v":15},{"t":66,"s":"Delay_Result","v":15},{"t":67,"s":"Delay_Result","v":14},{"t":68,"s":"Delay_Result","v":13},{"t":69,"s":"Delay_Result","v":12},{"t":70,"s":"Delay_Result","v":14},{"t":71,"s":"Delay_Result","v":13},{"t":72,"s":"Delay_Result","v":14},{"t":73,"s":"Delay_Result","v":14},{"t":74,"s":"Delay_Result","v":15},{"t":75,"s":"Delay_Result","v":14},{"t":76,"s":"Delay_Result","v":14},{"t":77,"s":"Delay_Result","v":15},{"t":78,"s":"Delay_Result","v":13},{"t":79,"s":"Delay_Result","v":13},{"t":80,"s":"Delay_Result","v":14},{"t":81,"s":"Delay_Result","v":14},{"t":82,"s":"Delay_Result","v":15},{"t":83,"s":"Delay_Result","v":14},{"t":84,"s":"Delay_Result","v":14},{"t":85,"s":"Delay_Result","v":13},{"t":86,"s":"Delay_Result","v":14},{"t":87,"s":"Delay_Result","v":14},{"t":88,"s":"Delay_Result","v":15},{"t":89,"s":"Delay_Result","v":14},{"t":90,"s":"Delay_Result","v":13},{"t":91,"s":"Delay_Result","v":17},{"t":92,"s":"Delay_Result","v":13},{"t":93,"s":"Delay_Result","v":14},{"t":94,"s":"Delay_Result","v":14},{"t":95,"s":"Delay_Result","v":15},{"t":96,"s":"Delay_Result","v":14},{"t":97,"s":"Delay_Result","v":13},{"t":98,"s":"Delay_Result","v":14},{"t":99,"s":"Delay_Result","v":14},{"t":100,"s":"Delay_Result","v":15},{"t":101,"s":"Delay_Result","v":14},{"t":102,"s":"Delay_Result","v":14},{"t":103,"s":"Delay_Result","v":13},{"t":104,"s":"Delay_Result","v":14},{"t":105,"s":"Delay_Result","v":15},{"t":106,"s":"Delay_Result","v":14},{"t":107,"s":"Delay_Result","v":14},{"t":108,"s":"Delay_Result","v":13},{"t":109,"s":"Delay_Result","v":14},{"t":110,"s":"Delay_Result","v":14},{"t":111,"s":"Delay_Result","v":15},{"t":112,"s":"Delay_Result","v":14},{"t":113,"s":"Delay_Result","v":14},{"t":114,"s":"Delay_Result","v":20},{"t":115,"s":"Delay_Result","v":13},{"t":116,"s":"Delay_Result","v":14},{"t":117,"s":"Delay_Result","v":14},{"t":118,"s":"Delay_Result","v":13},{"t":119,"s":"Delay_Result","v":14},{"t":121,"s":"Delay_Result","v":14},{"t":122,"s":"Delay_Result","v":15},{"t":123,"s":"Delay_Result","v":14},{"t":126,"s":"Delay_Result","v":14},{"t":127,"s":"Delay_Result","v":13},{"t":128,"s":"Delay_Result","v":13},{"t":129,"s":"Delay_Result","v":14},{"t":133,"s":"Delay_Result","v":14},{"t":134,"s":"Delay_Result","v":13},{"t":135,"s":"Delay_Result","v":15},{"t":136,"s":"Delay_Result","v":15},{"t":137,"s":"Delay_Result","v":14},{"t":138,"s":"Delay_Result","v":15},{"t":139,"s":"Delay_Result","v":14},{"t":141,"s":"Delay_Result","v":14},{"t":142,"s":"Delay_Result","v":13},{"t":143,"s":"Delay_Result","v":14},{"t":147,"s":"Delay_Result","v":14},{"t":148,"s":"Delay_Result","v":15},{"t":149,"s":"Delay_Result","v":14},{"t":152,"s":"Delay_Result","v":14},{"t":153,"s":"Delay_Result","v":15},{"t":154,"s":"Delay_Result","v":14},{"t":155,"s":"Delay_Result","v":14},{"t":156,"s":"Delay_Result","v":15},{"t":157,"s":"Delay_Result","v":14},{"t":158,"s":"Delay_Result","v":14},{"t":159,"s":"Delay_Result","v":13},{"t":160,"s":"Delay_Result","v":13},

      {"t":1,"s":"Loss_Result","v":3},{"t":2,"s":"Loss_Result","v":12},{"t":3,"s":"Loss_Result","v":2},{"t":4,"s":"Loss_Result","v":15},{"t":5,"s":"Loss_Result","v":17},{"t":6,"s":"Loss_Result","v":14},{"t":7,"s":"Loss_Result","v":18},{"t":8,"s":"Loss_Result","v":14},{"t":9,"s":"Loss_Result","v":16},{"t":10,"s":"Loss_Result","v":14},{"t":11,"s":"Loss_Result","v":16},{"t":12,"s":"Loss_Result","v":19},{"t":13,"s":"Loss_Result","v":21},{"t":14,"s":"Loss_Result","v":16},{"t":15,"s":"Loss_Result","v":14},{"t":16,"s":"Loss_Result","v":17},{"t":17,"s":"Loss_Result","v":12},{"t":18,"s":"Loss_Result","v":11},{"t":19,"s":"Loss_Result","v":14},{"t":20,"s":"Loss_Result","v":10},{"t":21,"s":"Loss_Result","v":20},{"t":22,"s":"Loss_Result","v":15},{"t":23,"s":"Loss_Result","v":8},{"t":24,"s":"Loss_Result","v":12},{"t":25,"s":"Loss_Result","v":16},{"t":26,"s":"Loss_Result","v":12},{"t":27,"s":"Loss_Result","v":15},{"t":28,"s":"Loss_Result","v":9},{"t":29,"s":"Loss_Result","v":14},{"t":30,"s":"Loss_Result","v":8},{"t":31,"s":"Loss_Result","v":11},{"t":32,"s":"Loss_Result","v":16},{"t":33,"s":"Loss_Result","v":24},{"t":34,"s":"Loss_Result","v":18},{"t":35,"s":"Loss_Result","v":10},{"t":36,"s":"Loss_Result","v":7},{"t":37,"s":"Loss_Result","v":10},{"t":38,"s":"Loss_Result","v":5},{"t":39,"s":"Loss_Result","v":13},{"t":40,"s":"Loss_Result","v":6},{"t":41,"s":"Loss_Result","v":8},{"t":42,"s":"Loss_Result","v":5},{"t":43,"s":"Loss_Result","v":8},{"t":44,"s":"Loss_Result","v":10},{"t":45,"s":"Loss_Result","v":8},{"t":46,"s":"Loss_Result","v":5},{"t":47,"s":"Loss_Result","v":8},{"t":48,"s":"Loss_Result","v":9},{"t":49,"s":"Loss_Result","v":12},{"t":50,"s":"Loss_Result","v":7},{"t":51,"s":"Loss_Result","v":10},{"t":52,"s":"Loss_Result","v":7},{"t":53,"s":"Loss_Result","v":11},{"t":54,"s":"Loss_Result","v":5},{"t":55,"s":"Loss_Result","v":7},{"t":56,"s":"Loss_Result","v":13},{"t":57,"s":"Loss_Result","v":12},{"t":58,"s":"Loss_Result","v":11},{"t":59,"s":"Loss_Result","v":8},{"t":60,"s":"Loss_Result","v":12},{"t":61,"s":"Loss_Result","v":7},{"t":62,"s":"Loss_Result","v":5},{"t":63,"s":"Loss_Result","v":4},{"t":64,"s":"Loss_Result","v":9},{"t":65,"s":"Loss_Result","v":3},{"t":66,"s":"Loss_Result","v":4},{"t":67,"s":"Loss_Result","v":3},{"t":68,"s":"Loss_Result","v":2},{"t":69,"s":"Loss_Result","v":1},{"t":70,"s":"Loss_Result","v":0},{"t":71,"s":"Loss_Result","v":3},{"t":72,"s":"Loss_Result","v":1},{"t":73,"s":"Loss_Result","v":2},{"t":74,"s":"Loss_Result","v":0},{"t":75,"s":"Loss_Result","v":3},{"t":76,"s":"Loss_Result","v":0},{"t":77,"s":"Loss_Result","v":0},{"t":78,"s":"Loss_Result","v":1},{"t":80,"s":"Loss_Result","v":1},{"t":81,"s":"Loss_Result","v":2},{"t":82,"s":"Loss_Result","v":4},{"t":83,"s":"Loss_Result","v":0},{"t":84,"s":"Loss_Result","v":1},{"t":85,"s":"Loss_Result","v":1},{"t":86,"s":"Loss_Result","v":4},{"t":87,"s":"Loss_Result","v":2},{"t":88,"s":"Loss_Result","v":4},{"t":89,"s":"Loss_Result","v":2},{"t":90,"s":"Loss_Result","v":1},{"t":91,"s":"Loss_Result","v":0},{"t":119,"s":"Loss_Result","v":0},{"t":120,"s":"Loss_Result","v":4},{"t":121,"s":"Loss_Result","v":6},{"t":122,"s":"Loss_Result","v":5},{"t":123,"s":"Loss_Result","v":8},{"t":124,"s":"Loss_Result","v":6},{"t":125,"s":"Loss_Result","v":0},{"t":160,"s":"Loss_Result","v":0}
    ]
  },
  "resolve": {"scale": {"color": "independent", "strokeDash": "independent"}, "legend": {"color": "independent", "strokeDash": "independent"}},
  "vconcat": [
    {
      "resolve": {"scale": {"color": "independent", "strokeDash": "independent"}, "legend": {"color": "independent", "strokeDash": "independent"}},
      "hconcat": [
        {
          "title": {"text": "a)", "orient": "bottom", "anchor": "middle", "fontSize": 21, "fontStyle": "italic", "fontWeight": "normal", "color": "#000000", "offset": 20, "dx": 11},
          "vconcat": [
            {
              "width": 244,
              "height": 166,
              "title": {"text": "WAN Latency", "fontSize": 15, "orient": "none", "anchor": "start", "align": "center", "baseline": "alphabetic", "dx": 102, "dy": 7},
              "data": {"name": "lat"},
              "mark": {"type": "line"},
              "encoding": {
                "x": {"field": "t", "type": "quantitative", "scale": {"domain": [0.5, 160.5], "nice": false, "zero": false},
                      "axis": {"values": [1,9,17,25,33,41,49,57,65,73,81,89,97,105,113,121,129,137,145,153], "labelAngle": -90, "labelFontSize": 10, "labelPadding": 4, "grid": false, "title": "Time (s)", "titleFontSize": 12.5, "titlePadding": 5, "labelOverlap": false, "labelFlush": false}},
                "y": {"field": "v", "type": "quantitative", "scale": {"domain": [0, 80], "nice": false},
                      "axis": {"values": [0,10,20,30,40,50,60,70,80], "title": "Latency (ms)", "titleFontSize": 12.5, "labelFontSize": 10.5, "labelPadding": 6, "titlePadding": 5}},
                "color": {"field": "s", "type": "nominal",
                          "scale": {"domain": ["Latency_WAN1", "Latency_WAN2", "Latency_WAN3", "Latency_Threshold"], "range": ["#2E5DAC", "#62A23E", "#A5A5A5", "#C00000"]},
                          "legend": {"orient": "none", "legendX": -30, "legendY": 193, "columns": 2, "direction": "horizontal", "title": null, "symbolType": "stroke", "symbolSize": 900, "symbolStrokeWidth": 2.5, "labelFontSize": 12, "labelOffset": 0, "columnPadding": 22, "rowPadding": 0}},
                "strokeDash": {"field": "s", "type": "nominal",
                               "scale": {"domain": ["Latency_WAN1", "Latency_WAN2", "Latency_WAN3", "Latency_Threshold"], "range": [[1, 0], [1, 0], [1, 0], [2.6, 1.8]]}}
              }
            }
          ]
        },
        {
          "title": {"text": "b)", "orient": "bottom", "anchor": "middle", "fontSize": 21, "fontStyle": "italic", "fontWeight": "normal", "color": "#000000", "offset": 21, "dx": -18},
          "vconcat": [
            {
              "width": 250,
              "height": 162,
              "title": {"text": "WAN Packet loss", "fontSize": 15, "orient": "none", "anchor": "start", "align": "center", "baseline": "alphabetic", "dx": 104, "dy": 6},
              "data": {"name": "loss"},
              "mark": {"type": "line"},
              "encoding": {
                "x": {"field": "t", "type": "quantitative", "scale": {"domain": [0.5, 160.5], "nice": false, "zero": false},
                      "axis": {"values": [1,9,17,25,33,41,49,57,65,73,81,89,97,105,113,121,129,137,145,153], "labelAngle": -90, "labelFontSize": 10, "labelPadding": 4, "grid": false, "title": "Time (s)", "titleFontSize": 12.5, "titlePadding": 4, "labelOverlap": false, "labelFlush": false}},
                "y": {"field": "v", "type": "quantitative", "scale": {"domain": [0, 35], "nice": false},
                      "axis": {"values": [0,5,10,15,20,25,30,35], "title": "Loss (%)", "titleFontSize": 12.5, "labelFontSize": 10.5, "labelPadding": 7, "titlePadding": 4}},
                "color": {"field": "s", "type": "nominal",
                          "scale": {"domain": ["Loss_WAN1", "Loss_WAN2", "Loss_WAN3", "Loss_Threshold"], "range": ["#2E5DAC", "#62A23E", "#A5A5A5", "#C00000"]},
                          "legend": {"orient": "none", "legendX": -12, "legendY": 194, "columns": 2, "direction": "horizontal", "title": null, "symbolType": "stroke", "symbolSize": 900, "symbolStrokeWidth": 2.5, "labelFontSize": 12, "labelOffset": 0, "columnPadding": 21, "rowPadding": 0}},
                "strokeDash": {"field": "s", "type": "nominal",
                               "scale": {"domain": ["Loss_WAN1", "Loss_WAN2", "Loss_WAN3", "Loss_Threshold"], "range": [[1, 0], [1, 0], [1, 0], [2.6, 1.8]]}}
              }
            }
          ]
        }
      ],
      "spacing": 23
    },
    {
      "title": {"text": "c)", "orient": "bottom", "anchor": "middle", "fontSize": 21, "fontStyle": "italic", "fontWeight": "normal", "color": "#000000", "offset": 25, "dx": -3},
      "vconcat": [
        {
          "width": 285,
          "height": 132,
          "title": {"text": ["AdvancedRouting-MovingAverage", "Latency is preferred"], "fontSize": 17, "lineHeight": 19, "anchor": "middle", "offset": 14},
          "data": {"name": "res"},
          "encoding": {
            "x": {"field": "t", "type": "quantitative", "scale": {"domain": [0.5, 160.5], "nice": false, "zero": false},
                  "axis": {"values": [1,9,17,25,33,41,49,57,65,73,81,89,97,105,113,121,129,137,145,153], "labelAngle": -90, "labelFontSize": 11, "labelPadding": 4, "grid": false, "title": "Time (s)", "titleFontSize": 13.5, "titlePadding": 9, "labelOverlap": false, "labelFlush": false}},
            "color": {"field": "s", "type": "nominal",
                      "scale": {"domain": ["Delay_Result", "Loss_Result"], "range": ["#2E5DAC", "#E87A2F"]},
                      "legend": {"orient": "none", "legendX": 32, "legendY": 165, "columns": 2, "direction": "horizontal", "title": null, "symbolType": "stroke", "symbolSize": 784, "symbolStrokeWidth": 2.5, "labelFontSize": 13, "labelFontWeight": "bold", "labelOffset": 0, "columnPadding": 17}}
          },
          "layer": [
            {
              "transform": [{"filter": "datum.s == 'Delay_Result'"}],
              "mark": {"type": "line"},
              "encoding": {
                "y": {"field": "v", "type": "quantitative", "scale": {"domain": [0, 80], "nice": false},
                      "axis": {"values": [0,10,20,30,40,50,60,70,80], "title": "Latency (ms)", "titleFontSize": 14, "labelFontSize": 11, "labelPadding": 10, "titlePadding": 6}}
              }
            },
            {
              "transform": [{"filter": "datum.s == 'Loss_Result'"}],
              "mark": {"type": "line"},
              "encoding": {
                "y": {"field": "v", "type": "quantitative", "scale": {"domain": [0, 80], "nice": false},
                      "axis": {"orient": "right", "values": [0,10,20,30,40,50,60,70,80], "grid": false, "title": "Loss (%)", "titleAngle": 270, "titleFontSize": 14, "labelFontSize": 11, "labelPadding": 9, "titlePadding": 22}}
              }
            }
          ],
          "resolve": {"scale": {"y": "independent"}}
        }
      ]
    }
  ],
  "center": true,
  "spacing": 17
}
